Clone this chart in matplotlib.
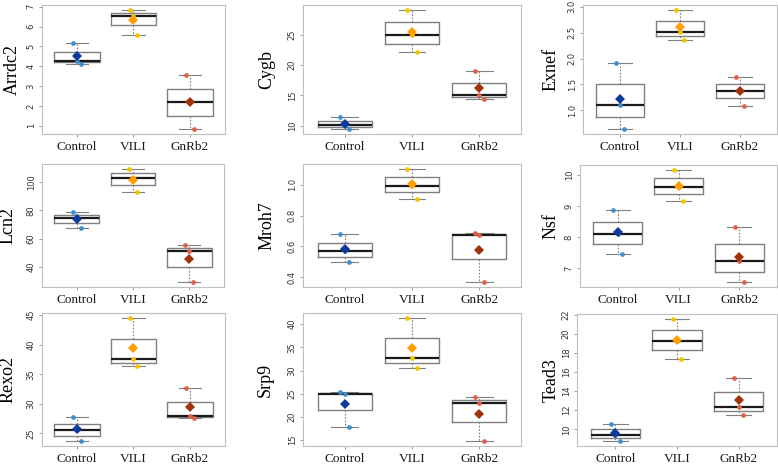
import matplotlib.pyplot as plt
import numpy as np

# three samples per group
genes = ["Arrdc2", "Cygb", "Exnef", "Lcn2", "Mroh7", "Nsf", "Rexo2", "Srp9", "Tead3"]
groups = ["Control", "VILI", "GnRb2"]

control = [[5.18, 4.28, 4.13], [11.36, 10.05, 9.40], [1.907, 1.11, 0.636],
           [79.1, 74.4, 67.3], [0.677, 0.569, 0.497], [8.86, 8.11, 7.47],
           [27.78, 25.56, 23.72], [25.37, 25.0, 17.77], [10.55, 9.41, 8.76]]
vili = [[6.85, 6.55, 5.60], [29.15, 24.95, 22.17], [2.94, 2.52, 2.36],
        [109.4, 102.6, 92.9], [1.106, 0.993, 0.909], [10.17, 9.61, 9.15],
        [44.5, 37.5, 36.33], [41.35, 32.6, 30.48], [21.55, 19.24, 17.34]]
gnrb2 = [[3.57, 2.18, 0.83], [19.0, 15.0, 14.47], [1.652, 1.377, 1.09],
         [55.8, 51.1, 29.2], [0.686, 0.675, 0.365], [8.33, 7.23, 6.54],
         [32.6, 27.94, 27.67], [24.37, 22.9, 14.79], [15.41, 12.38, 11.48]]

yticks = [[1, 2, 3, 4, 5, 6, 7], [10, 15, 20, 25], [1.0, 1.5, 2.0, 2.5, 3.0],
          [40, 60, 80, 100], [0.4, 0.6, 0.8, 1.0], [7, 8, 9, 10],
          [25, 30, 35, 40, 45], [15, 20, 25, 30, 35, 40], [10, 12, 14, 16, 18, 20, 22]]

pt_colors = ["#3a8fd1", "#f5c400", "#e0604a"]
mean_colors = ["#0d3a9c", "#ffa000", "#a1330a"]
jitter = [-0.07, 0.0, 0.07]

W, H = 778, 468
# panel frames in pixels: left, top, right, bottom
panel_px = [(42, 5, 225, 134), (303, 5, 521, 134), (583, 5, 777, 134),
            (42, 164, 224, 287), (303, 164, 521, 287), (580, 165, 777, 287),
            (42, 313, 225, 446), (303, 313, 521, 446), (577, 314, 777, 446)]
label_x = [12, 267, 551, 8, 267, 551, 8, 265, 551]

fig = plt.figure(figsize=(W / 100, H / 100), dpi=100)

for i, gene in enumerate(genes):
    l, t, r, b = panel_px[i]
    ax = fig.add_axes([l / W, 1 - b / H, (r - l) / W, (b - t) / H])
    data = [control[i], vili[i], gnrb2[i]]

    ax.boxplot(data, positions=[1, 2, 3], widths=0.8, whis=(0, 100),
               showfliers=False, capwidths=0.4,
               boxprops=dict(color="#808080", lw=1.0),
               medianprops=dict(color="#1a1a1a", lw=1.6),
               whiskerprops=dict(color="#808080", lw=0.8, ls=(0, (1.5, 1.5))),
               capprops=dict(color="#808080", lw=0.8))

    for j, vals in enumerate(data):
        ax.plot(np.full(len(vals), j + 1.0) + jitter, vals, "o", ms=3.4,
                color=pt_colors[j], mew=0, zorder=3)
        ax.plot(j + 1, np.mean(vals), "D", ms=5.5, color=mean_colors[j],
                mew=0, zorder=4)

    allv = np.concatenate(data)
    lo, hi = allv.min(), allv.max()
    pad = 0.04 * (hi - lo)
    ax.set_ylim(lo - pad, hi + pad)
    ax.set_xlim(0.38, 3.62)

    ax.set_xticks([1, 2, 3])
    ax.set_xticklabels(groups, family="Liberation Serif", fontsize=9.5, color="#1a1a1a")
    ax.set_yticks(yticks[i])
    ax.set_yticklabels([str(v) for v in yticks[i]], fontsize=6, color="#333333",
                       rotation=90, va="center")
    ax.tick_params(axis="both", colors="#8c8c8c", length=2.5, width=0.6)
    ax.tick_params(axis="x", labelcolor="#1a1a1a", pad=2.5)
    ax.tick_params(axis="y", labelcolor="#333333", pad=2)
    for s in ax.spines.values():
        s.set_color("#c0c0c0")
        s.set_linewidth(0.8)

    fig.text(label_x[i] / W, 1 - (t + b) / 2 / H, gene, rotation=90,
             ha="center", va="center", family="Liberation Serif", fontsize=13)

fig.savefig("out.png", dpi=100)
